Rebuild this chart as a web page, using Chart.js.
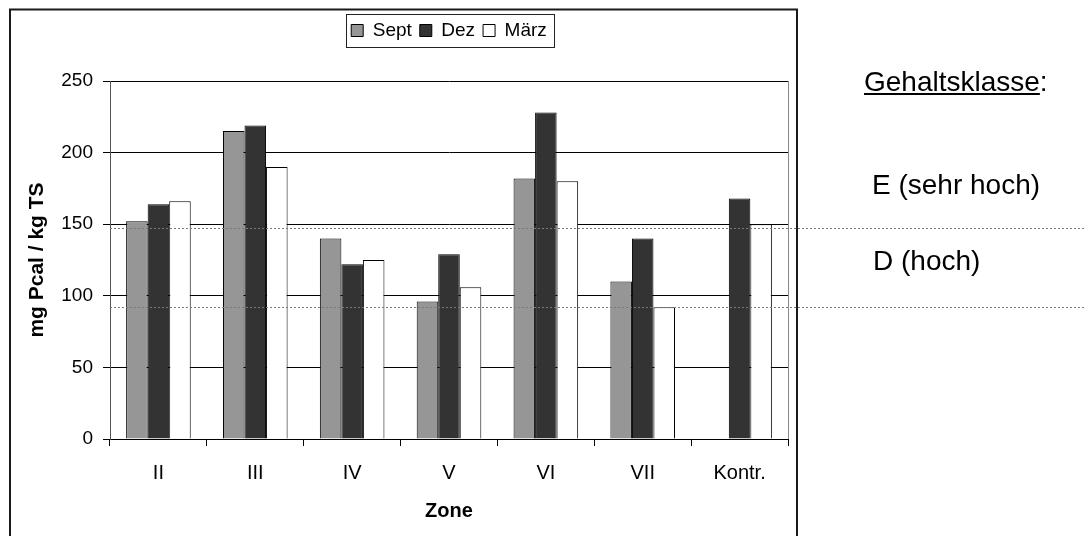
<!DOCTYPE html>
<html>
<head>
<meta charset="utf-8">
<script src="https://cdn.jsdelivr.net/npm/chart.js@4.4.1/dist/chart.umd.min.js"></script>
<style>
  html, body { margin: 0; padding: 0; background: #fff; }
  #wrap { position: relative; width: 1085px; height: 536px; }
</style>
</head>
<body>
<div id="wrap"><canvas id="c"></canvas></div>
<script>
// Zones along the x axis
const zones = ['II', 'III', 'IV', 'V', 'VI', 'VII', 'Kontr.'];
// mg Pcal / kg TS per sampling month
const sept  = [152, 215, 140, 96, 182, 110, null];
const dez   = [164, 219, 122, 129, 228, 140, 168];
const maerz = [166, 190, 125, 106, 180, 92, 150];
// y axis ticks
const yTicks = [0, 50, 100, 150, 200, 250];
// content class boundaries (dashed lines) and class names
const classBounds = [147.5, 92];
const classTitle = 'Gehaltsklasse';
const classNames = ['E (sehr hoch)', 'D (hoch)'];

const FONT = '"Liberation Sans", Arial, sans-serif';

// white page and outer frame around the chart
const framePlugin = {
  id: 'frame',
  beforeDraw(chart) {
    const ctx = chart.ctx;
    ctx.save();
    ctx.fillStyle = '#fff';
    ctx.fillRect(0, 0, chart.width, chart.height);
    ctx.strokeStyle = '#1a1a1a';
    ctx.lineWidth = 2;
    ctx.strokeRect(10, 9.5, 787, 600);
    ctx.restore();
  }
};

// extra room below the legend row
const legendSpacer = {
  id: 'legendSpacer',
  beforeLayout(chart) {
    const lg = chart.legend;
    if (lg && !lg._spaced) {
      const fit = lg.fit;
      lg.fit = function () { fit.call(this); this.height += 31; };
      lg._spaced = true;
    }
  }
};

// dashed class boundaries drawn over the bars, plus the class labels
const classPlugin = {
  id: 'classes',
  afterDatasetsDraw(chart) {
    const ctx = chart.ctx;
    const y = chart.scales.y;
    const area = chart.chartArea;
    ctx.save();
    ctx.strokeStyle = '#7a7a7a';
    ctx.lineWidth = 1;
    ctx.setLineDash([2, 2]);
    classBounds.forEach(v => {
      const py = Math.round(y.getPixelForValue(v)) + 0.5;
      ctx.beginPath();
      ctx.moveTo(area.left, py);
      ctx.lineTo(chart.width, py);
      ctx.stroke();
    });
    ctx.setLineDash([]);
    // right edge of plot area
    ctx.strokeStyle = '#8a8a8a';
    ctx.beginPath();
    ctx.moveTo(Math.round(area.right) + 0.5, area.top);
    ctx.lineTo(Math.round(area.right) + 0.5, area.bottom);
    ctx.stroke();
    ctx.restore();
  },
  afterDraw(chart) {
    const ctx = chart.ctx;
    ctx.save();
    ctx.fillStyle = '#000';
    ctx.textBaseline = 'alphabetic';
    ctx.textAlign = 'left';
    ctx.font = '28px ' + FONT;
    const w = ctx.measureText(classTitle).width;
    ctx.fillText(classTitle, 864, 91);
    ctx.fillRect(864, 93, w, 2);
    ctx.fillText(':', 864 + w, 91);
    ctx.fillText(classNames[0], 872, 194);
    ctx.fillText(classNames[1], 873, 270);

    // border around the legend
    const boxes = chart.legend.legendHitBoxes;
    if (boxes && boxes.length) {
      const l = Math.min(...boxes.map(b => b.left));
      const r = Math.max(...boxes.map(b => b.left + b.width));
      const t = boxes[0].top, h = boxes[0].height;
      ctx.strokeStyle = '#222';
      ctx.lineWidth = 1;
      ctx.strokeRect(Math.round(l - 5) + 0.5, Math.round(t - 7) + 0.5,
                     Math.round(r - l + 12), Math.round(h + 14));
    }
    ctx.restore();
  }
};

new Chart(document.getElementById('c'), {
  type: 'bar',
  data: {
    labels: zones,
    datasets: [
      { label: 'Sept', data: sept,  backgroundColor: '#969696', borderColor: '#000', borderWidth: 1 },
      { label: 'Dez',  data: dez,   backgroundColor: '#333333', borderColor: '#000', borderWidth: 1 },
      { label: 'März', data: maerz, backgroundColor: '#ffffff', borderColor: '#000', borderWidth: 1 }
    ]
  },
  options: {
    responsive: true,
    maintainAspectRatio: false,
    animation: false,
    devicePixelRatio: 1,
    layout: { padding: { left: 10, right: 297, top: 13, bottom: 0 } },
    datasets: { bar: { categoryPercentage: 0.667, barPercentage: 1 } },
    plugins: {
      legend: {
        position: 'top',
        fullSize: false,
        align: 'center',
        labels: {
          font: { size: 19, family: FONT },
          color: '#000',
          boxWidth: 12,
          boxHeight: 12,
          padding: 8
        }
      },
      tooltip: { enabled: false }
    },
    scales: {
      x: {
        grid: { display: true, drawOnChartArea: false, drawTicks: true, tickLength: 7, color: '#000', offset: true },
        border: { color: '#000', width: 1 },
        ticks: { font: { size: 20, family: FONT }, color: '#000', padding: 15, maxRotation: 0, autoSkip: false },
        title: {
          display: true, text: 'Zone', color: '#000',
          font: { size: 20, weight: 'bold', family: FONT },
          padding: { top: 0, bottom: 13 }
        },
        afterFit(s) { s.height = 97; }
      },
      y: {
        min: yTicks[0],
        max: yTicks[yTicks.length - 1],
        afterBuildTicks(s) { s.ticks = yTicks.map(v => ({ value: v })); },
        ticks: { font: { size: 19, family: FONT }, color: '#000', padding: 10 },
        grid: { color: '#000', tickLength: 7, tickColor: '#000' },
        border: { color: '#555' },
        title: {
          display: true, text: 'mg Pcal / kg TS', color: '#000',
          font: { size: 21, weight: 'bold', family: FONT },
          padding: { top: 15, bottom: 0 }
        },
        afterFit(s) { s.width = 100; }
      }
    }
  },
  plugins: [framePlugin, legendSpacer, classPlugin]
});
</script>
</body>
</html>
